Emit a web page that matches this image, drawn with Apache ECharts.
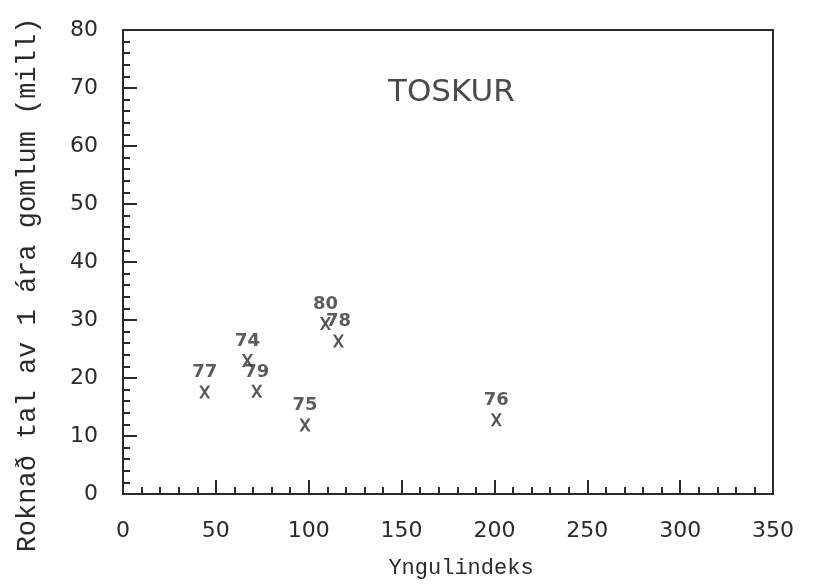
<!DOCTYPE html>
<html>
<head>
<meta charset="utf-8">
<script src="https://cdn.jsdelivr.net/npm/echarts@6/dist/echarts.min.js"></script>
<style>
  html, body { margin: 0; padding: 0; background: #fff; }
  #chart { width: 814px; height: 584px; }
</style>
</head>
<body>
<div id="chart"></div>
<script>
const years = ['77', '74', '79', '75', '80', '78', '76']
const yngulindeks = [44, 67, 72, 98, 109, 116, 201]
const roknadTal = [17.6, 23.0, 17.7, 11.9, 29.4, 26.4, 12.8]

const ink = '#2a2a2a'
// plotter-style X marker
const crossPath = 'path://M0,0L2.4,0L5,4.2L7.6,0L10,0L6.3,6L10,12L7.6,12L5,7.8L2.4,12L0,12L3.7,6Z'

const chart = echarts.init(document.getElementById('chart'))
chart.setOption({
  animation: false,
  backgroundColor: '#fff',
  title: {
    text: 'TOSKUR',
    left: 383,
    top: 72,
    textStyle: { fontFamily: 'DejaVu Sans', fontSize: 31, fontWeight: 'normal', color: '#4a4a4a' }
  },
  grid: {
    left: 123, top: 30, right: 41, bottom: 85,
    show: true, borderColor: ink, borderWidth: 2, backgroundColor: 'transparent'
  },
  xAxis: {
    type: 'value',
    min: 0, max: 350, interval: 50,
    name: 'Yngulindeks',
    nameLocation: 'middle',
    nameGap: 63,
    nameTextStyle: { fontFamily: 'Liberation Mono', fontSize: 22, color: ink, padding: [0, 0, 0, 26] },
    axisLine: { lineStyle: { color: ink, width: 2 } },
    axisTick: { inside: true, length: 14, lineStyle: { color: ink, width: 2 } },
    minorTick: { show: true, splitNumber: 5, length: 7, lineStyle: { color: ink, width: 2 } },
    splitLine: { show: false },
    axisLabel: { margin: 26, fontFamily: 'DejaVu Sans', fontSize: 22, color: ink }
  },
  yAxis: {
    type: 'value',
    min: 0, max: 80, interval: 10,
    name: 'Roknað tal av 1 ára gomlum (mill)',
    nameLocation: 'middle',
    nameGap: 82,
    nameRotate: 90,
    nameTextStyle: { fontFamily: 'Liberation Mono', fontSize: 27, color: ink, padding: [0, 46, 0, 0] },
    axisLine: { lineStyle: { color: ink, width: 2 } },
    axisTick: { inside: true, length: 14, lineStyle: { color: ink, width: 2 } },
    minorTick: { show: true, splitNumber: 5, length: 7, lineStyle: { color: ink, width: 2 } },
    splitLine: { show: false },
    axisLabel: { margin: 25, fontFamily: 'DejaVu Sans', fontSize: 22, color: ink }
  },
  series: [{
    type: 'scatter',
    data: yngulindeks.map((x, i) => [x, roknadTal[i], years[i]]),
    symbol: crossPath,
    symbolSize: [11, 13],
    itemStyle: { color: ink },
    label: {
      show: true,
      position: 'top',
      distance: 4,
      formatter: p => p.value[2],
      fontFamily: 'DejaVu Sans',
      fontSize: 18,
      fontWeight: 'bold',
      color: '#333'
    }
  }]
})
</script>
</body>
</html>
